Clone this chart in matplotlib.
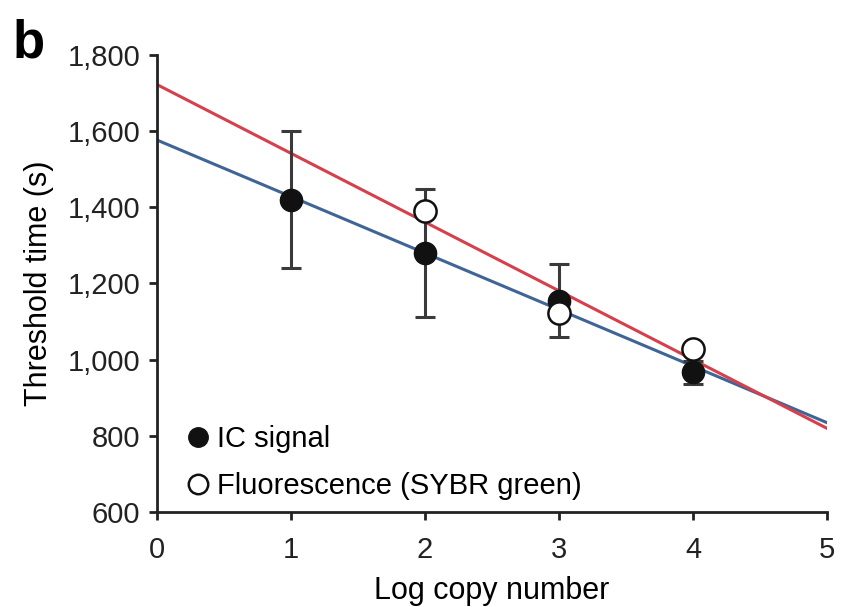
import numpy as np
import matplotlib
matplotlib.use("Agg")
import matplotlib.pyplot as plt

plt.rcParams['font.family'] = ['Liberation Sans', 'DejaVu Sans']

# IC signal (filled circles) with error bars
ic_x = [1, 2, 3, 4]
ic_y = [1420, 1280, 1155, 967]
ic_err = [180, 168, 95, 30]

# Fluorescence (SYBR green), open circles
fl_x = [2, 3, 4]
fl_y = [1390, 1123, 1029]

x_ticks = [0, 1, 2, 3, 4, 5]
y_ticks = [600, 800, 1000, 1200, 1400, 1600, 1800]

fig = plt.figure(figsize=(8.47, 6.07), dpi=100)
ax = fig.add_axes([0.1854, 0.1565, 0.791, 0.753])

xs = np.array([0, 5])
b_fit = np.polyfit(ic_x, ic_y, 1)
r_fit = np.polyfit(fl_x, fl_y, 1)
ax.plot(xs, np.polyval(b_fit, xs), color='#3f6597', lw=2.2, zorder=2)
ax.plot(xs, np.polyval(r_fit, xs), color='#d6404c', lw=2.2, zorder=2)

ax.errorbar(ic_x, ic_y, yerr=ic_err, fmt='none', ecolor='#3a3a3a',
            elinewidth=2.2, capsize=7, capthick=2.2, zorder=3)
ax.plot(ic_x, ic_y, 'o', color='#111111', ms=16, zorder=4, label='IC signal')
ax.plot(fl_x, fl_y, 'o', mfc='white', mec='#111111', mew=1.8, ms=16, zorder=5,
        label='Fluorescence (SYBR green)')

ax.set_xlim(0, 5)
ax.set_ylim(600, 1800)
ax.set_xticks(x_ticks)
ax.set_yticks(y_ticks)
ax.set_yticklabels([f"{v:,}" for v in y_ticks])
for s in ['top', 'right']:
    ax.spines[s].set_visible(False)
for s in ['left', 'bottom']:
    ax.spines[s].set_linewidth(2)
    ax.spines[s].set_color('#222222')
ax.tick_params(direction='out', length=6, width=2, labelsize=21, colors='#222222')
ax.tick_params(axis='x', pad=11)
ax.tick_params(axis='y', pad=6)
ax.set_xlabel('Log copy number', fontsize=22, labelpad=9)
ax.set_ylabel('Threshold time (s)', fontsize=22, labelpad=10)

leg = ax.legend(loc='lower left', frameon=False, fontsize=21, handletextpad=0.05,
                borderaxespad=0.0, labelspacing=0.65, handlelength=1.2,
                bbox_to_anchor=(0.018, 0.0))
for h in leg.legend_handles:
    h.set_markersize(14)

fig.text(0.015, 0.905, 'b', fontsize=38, fontweight='bold')

fig.savefig('out.png', dpi=100)
